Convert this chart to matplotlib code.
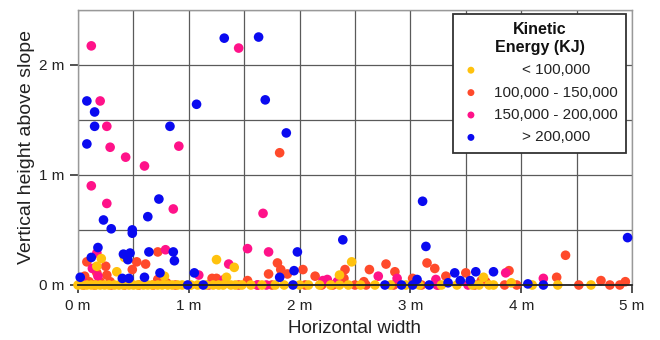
import matplotlib
matplotlib.use("Agg")
import matplotlib.pyplot as plt
from matplotlib.ticker import MultipleLocator, FuncFormatter

plt.rcParams['font.family'] = ['Liberation Sans', 'DejaVu Sans']

# ---------------- data (metres) ----------------
categories = ["< 100,000", "100,000 - 150,000", "150,000 - 200,000", "> 200,000"]
colors = ["#FFC20E", "#FF4A2B", "#FF1289", "#0A0AF0"]

yellow_x = [0.21, 0.17, 0.35, 0.42, 0.78, 1.25, 1.41, 1.34, 2.36, 2.47, 3.66, 3.91,
            0.0, 0.04, 0.08, 0.12, 0.16, 0.2, 0.24, 0.28, 0.33, 0.37, 0.41, 0.46, 0.5,
            0.54, 0.59, 0.63, 0.67, 0.72, 0.76, 0.81, 0.85, 0.9, 0.94, 1.02, 1.08, 1.16,
            1.22, 1.27, 1.31, 1.38, 1.42, 1.48, 1.56, 1.66, 1.78, 1.86, 2.0, 2.08, 2.18,
            2.28, 2.36, 2.44, 2.55, 2.68, 2.82, 2.96, 3.08, 3.28, 3.42, 3.56, 3.62, 3.71,
            3.75, 4.10, 4.33, 4.63]
yellow_y = [0.24, 0.17, 0.12, 0.25, 0.08, 0.23, 0.16, 0.07, 0.09, 0.21, 0.07, 0.02,
            0.0, 0.0, 0.0, 0.0, 0.0, 0.0, 0.0, 0.0, 0.0, 0.0, 0.0, 0.0, 0.0,
            0.0, 0.0, 0.0, 0.0, 0.0, 0.0, 0.0, 0.0, 0.0, 0.0, 0.0, 0.0, 0.0,
            0.0, 0.0, 0.0, 0.0, 0.0, 0.0, 0.0, 0.0, 0.0, 0.0, 0.0, 0.0, 0.0,
            0.0, 0.0, 0.0, 0.0, 0.0, 0.0, 0.0, 0.0, 0.0, 0.0, 0.0, 0.0, 0.0,
            0.0, 0.0, 0.0, 0.0]

orange_x = [1.82, 4.40, 0.08, 0.25, 0.17, 0.06, 0.26, 0.49, 0.53, 0.61, 0.72, 0.72,
            0.80, 1.21, 0.29, 0.20, 0.10, 1.72, 1.80, 1.83, 1.89, 2.03, 2.14, 2.41,
            2.40, 1.53, 1.25, 2.63, 2.78, 2.86, 2.58, 3.02, 3.15, 3.22, 3.32, 3.50,
            3.64, 3.68, 3.89, 3.96, 4.32, 4.52, 4.72, 4.80, 4.89, 4.94,
            0.05, 0.15, 0.30, 0.42, 0.55, 0.68, 0.88, 1.45, 1.62, 1.75, 2.05,
            2.20, 2.30, 2.50, 2.60, 2.85, 3.10, 3.25, 3.58, 3.85]
orange_y = [1.20, 0.27, 0.21, 0.17, 0.11, 0.08, 0.09, 0.14, 0.21, 0.19, 0.30, 0.05,
            0.02, 0.06, 0.03, 0.03, 0.03, 0.10, 0.20, 0.14, 0.10, 0.14, 0.08, 0.14,
            0.06, 0.04, 0.06, 0.14, 0.19, 0.12, 0.03, 0.06, 0.20, 0.15, 0.08, 0.11,
            0.04, 0.03, 0.13, 0.0, 0.07, 0.0, 0.04, 0.0, 0.0, 0.03,
            0.0, 0.0, 0.0, 0.0, 0.0, 0.0, 0.0, 0.0, 0.0, 0.0, 0.0,
            0.0, 0.0, 0.0, 0.0, 0.0, 0.0, 0.0, 0.0, 0.0]

pink_x = [0.12, 1.45, 0.20, 0.26, 0.29, 0.91, 0.43, 0.60, 0.12, 0.26, 0.86, 1.67,
          0.17, 0.13, 0.79, 1.09, 1.36, 1.32, 1.53, 1.72, 2.25, 2.21, 2.34, 2.71,
          2.88, 3.23, 3.86, 4.20, 0.18, 1.18, 1.62, 1.70, 3.24, 3.52, 0.04]
pink_y = [2.17, 2.15, 1.67, 1.44, 1.25, 1.26, 1.16, 1.08, 0.90, 0.74, 0.69, 0.65,
          0.29, 0.15, 0.32, 0.09, 0.19, 0.05, 0.33, 0.30, 0.05, 0.04, 0.03, 0.08,
          0.06, 0.05, 0.11, 0.06, 0.08, 0.0, 0.0, 0.0, 0.0, 0.0, 0.03]

blue_x = [1.32, 1.63, 0.08, 0.15, 1.07, 1.69, 0.15, 0.83, 1.88, 0.08, 0.23, 0.30,
          0.49, 0.49, 0.73, 0.63, 2.39, 3.11, 3.14, 4.96,
          0.18, 0.12, 0.41, 0.47, 0.45, 0.02, 0.40, 0.46, 0.60, 0.74, 0.64, 0.86,
          0.87, 1.05, 1.82, 1.95, 1.98, 1.94, 2.77, 2.92, 3.02, 3.06, 3.17, 3.34,
          3.40, 3.45, 3.54, 3.59, 3.75, 4.06, 4.20, 0.99, 1.13]
blue_y = [2.24, 2.25, 1.67, 1.57, 1.64, 1.68, 1.44, 1.44, 1.38, 1.28, 0.59, 0.51,
          0.50, 0.47, 0.78, 0.62, 0.41, 0.76, 0.35, 0.43,
          0.34, 0.25, 0.28, 0.29, 0.23, 0.07, 0.06, 0.06, 0.07, 0.11, 0.30, 0.30,
          0.22, 0.11, 0.07, 0.13, 0.30, 0.0, 0.0, 0.0, 0.0, 0.05, 0.0, 0.02,
          0.11, 0.04, 0.04, 0.12, 0.12, 0.01, 0.0, 0.0, 0.0]

x_ticks = [0, 1, 2, 3, 4, 5]
y_ticks = [0, 1, 2]

# ---------------- figure ----------------
fig = plt.figure(figsize=(6.6, 3.4), dpi=100)
ax = fig.add_axes([78 / 660, 55 / 340, 554 / 660, 275.5 / 340])

series = [(yellow_x, yellow_y), (orange_x, orange_y), (pink_x, pink_y), (blue_x, blue_y)]
draw_order = [1, 2, 0, 3]
handles = [None] * 4
for i in draw_order:
    xs, ys = series[i]
    handles[i] = ax.scatter(xs, ys, s=48, color=colors[i], edgecolors='none',
                            clip_on=False, zorder=3 + draw_order.index(i) * 0.1,
                            label=categories[i])

ax.set_xlim(0, 5)
ax.set_ylim(0, 2.5)
ax.set_xticks(x_ticks)
ax.set_yticks(y_ticks)
ax.xaxis.set_minor_locator(MultipleLocator(0.5))
ax.yaxis.set_minor_locator(MultipleLocator(0.5))
ax.xaxis.set_major_formatter(FuncFormatter(lambda v, p: f"{v:.0f} m"))
ax.yaxis.set_major_formatter(FuncFormatter(lambda v, p: f"{v:.0f} m"))
ax.grid(True, which='both', color='#5a5a5a', linewidth=0.9)
ax.set_axisbelow(True)
ax.tick_params(axis='both', which='major', labelsize=11, length=6, width=1.1,
               color='#222222', labelcolor='#222222')
ax.tick_params(axis='x', which='major', pad=4)
ax.tick_params(axis='y', which='major', pad=4)
ax.tick_params(which='minor', length=0)
for side in ['top', 'right', 'left']:
    ax.spines[side].set_color('#999999')
    ax.spines[side].set_linewidth(1.0)
ax.spines['bottom'].set_color('#222222')
ax.spines['bottom'].set_linewidth(1.3)
ax.spines['bottom'].set_zorder(5)

ax.set_xlabel("Horizontal width", fontsize=13.5, color='#222222', labelpad=5)
ax.set_ylabel("Vertical height above slope", fontsize=14, color='#222222', labelpad=3)

leg = ax.legend(handles=handles, labels=categories, title="Kinetic\nEnergy (KJ)",
                loc='upper right', bbox_to_anchor=(626 / 660, 1 - 14 / 340),
                bbox_transform=fig.transFigure, borderaxespad=0,
                frameon=True, fancybox=False, framealpha=1, edgecolor='#333333',
                fontsize=11, title_fontsize=11.5, markerscale=0.72,
                handletextpad=0.9, labelspacing=0.55, borderpad=0.55,
                handlelength=1.2)
leg.get_frame().set_linewidth(1.3)
leg.set_zorder(10)
title = leg.get_title()
title.set_fontweight('bold')
title.set_multialignment('center')
title.set_color('#111111')

# centre legend labels within their column
fig.canvas.draw()
renderer = fig.canvas.get_renderer()
texts = leg.get_texts()
widths = [t.get_window_extent(renderer).width for t in texts]
wmax = max(widths)
for t, w in zip(texts, widths):
    t.set_x((wmax - w) / 2)
    t.set_color('#222222')

fig.savefig("out.png", dpi=100)
